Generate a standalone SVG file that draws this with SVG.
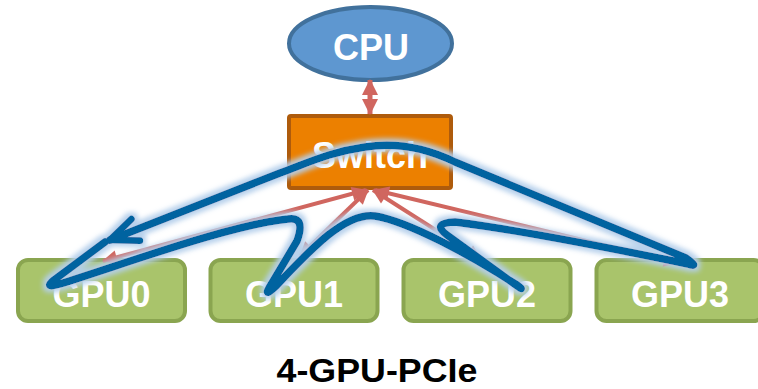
<svg xmlns="http://www.w3.org/2000/svg" width="758" height="389" viewBox="0 0 758 389">
<style>
  .lbl { font-family: "Liberation Sans", Arial, sans-serif; font-weight: bold; fill: #ffffff; text-anchor: middle; font-size: 36px; }
  .gpu { fill: #a9c46b; stroke: #8aa550; stroke-width: 4; }
  .red { fill: none; stroke: #d0665f; stroke-width: 4; }
  .ring { fill: none; stroke: #0063a0; stroke-width: 7.5; stroke-linecap: round; stroke-linejoin: round; }
  .title { font-family: "Liberation Sans", Arial, sans-serif; font-weight: bold; fill: #000000; text-anchor: middle; font-size: 33px; }
</style>
<defs>
  <marker id="redhead" markerUnits="userSpaceOnUse" markerWidth="20" markerHeight="20" refX="14" refY="7" orient="auto-start-reverse" overflow="visible">
    <path d="M0,0 L15,7 L0,14 Z" fill="#d0665f"/>
  </marker>
  <marker id="cpuhead" markerUnits="userSpaceOnUse" markerWidth="20" markerHeight="20" refX="15" refY="8" orient="auto-start-reverse" overflow="visible">
    <path d="M0,0 L16,8 L0,16 Z" fill="#d0665f"/>
  </marker>
  <marker id="openhead" markerUnits="userSpaceOnUse" markerWidth="40" markerHeight="40" refX="0" refY="0" orient="auto" overflow="visible" viewBox="-40 -20 45 40">
    <path d="M-31,-13 L0,0 L-31,13" fill="none" stroke="#0063a0" stroke-width="7.5" stroke-linecap="round" stroke-linejoin="round"/>
  </marker>
  <filter id="glow" x="-10%" y="-20%" width="120%" height="140%">
    <feMorphology in="SourceAlpha" operator="dilate" radius="3" result="d"/>
    <feGaussianBlur in="d" stdDeviation="2.5" result="b"/>
    <feFlood flood-color="#b4cfeb" flood-opacity="0.95"/>
    <feComposite in2="b" operator="in" result="g"/>
    <feMerge>
      <feMergeNode in="g"/>
      <feMergeNode in="SourceGraphic"/>
    </feMerge>
  </filter>
</defs>
<rect x="0" y="0" width="758" height="389" fill="#ffffff"/>

<g id="cpu">
  <ellipse cx="370.5" cy="43.5" rx="81.5" ry="36.5" fill="#5e97d0" stroke="#41719c" stroke-width="4"/>
  <text class="lbl" x="371" y="60" font-size="36">CPU</text>
</g>
<g id="switch">
  <rect x="289" y="116" width="162" height="72" rx="2" fill="#ec8000" stroke="#ae5b0c" stroke-width="4"/>
  <text class="lbl" x="370" y="168">Switch</text>
</g>
<g id="gpu0">
  <rect class="gpu" x="18" y="260" width="167" height="61" rx="10"/>
  <text class="lbl" x="101.5" y="307">GPU0</text>
</g>
<g id="gpu1">
  <rect class="gpu" x="210.5" y="260" width="167" height="61" rx="10"/>
  <text class="lbl" x="294" y="307">GPU1</text>
</g>
<g id="gpu2">
  <rect class="gpu" x="403.5" y="260" width="167" height="61" rx="10"/>
  <text class="lbl" x="487" y="307">GPU2</text>
</g>
<g id="gpu3">
  <rect class="gpu" x="596.5" y="260" width="167" height="61" rx="10"/>
  <text class="lbl" x="680" y="307">GPU3</text>
</g>

<g id="connectors">
  <path d="M370,80 L370,114" stroke="#d0665f" stroke-width="5" fill="none" marker-start="url(#cpuhead)" marker-end="url(#cpuhead)"/>
  <path class="red" d="M366,190 L103,261" marker-start="url(#redhead)" marker-end="url(#redhead)"/>
  <path class="red" d="M368,190 L300,256" marker-start="url(#redhead)" marker-end="url(#redhead)"/>
  <path class="red" d="M373,190 L481,259" marker-start="url(#redhead)" marker-end="url(#redhead)"/>
  <path class="red" d="M375,190 L678,263" marker-start="url(#redhead)" marker-end="url(#redhead)"/>
  <g filter="url(#glow)">
    <path class="ring" marker-end="url(#openhead)" d="M105,242 L54,280 Q43,289 60,284 C130,262 230,225 288,219 Q306,216 297,241 L269,288 Q264,297 275,287 C310,250 345,212 375,216 C410,222 470,255 517,285 Q527,293 513,283 L447,235 Q431,223 455,222 C520,230 620,250 688,264 Q700,268 686,258 L455,162 C420,145 390,143 365,147 C330,152 310,162 280,173 L110,240"/>
  </g>
</g>

<text class="title" x="377" y="382" textLength="201" lengthAdjust="spacingAndGlyphs">4-GPU-PCIe</text>
</svg>
